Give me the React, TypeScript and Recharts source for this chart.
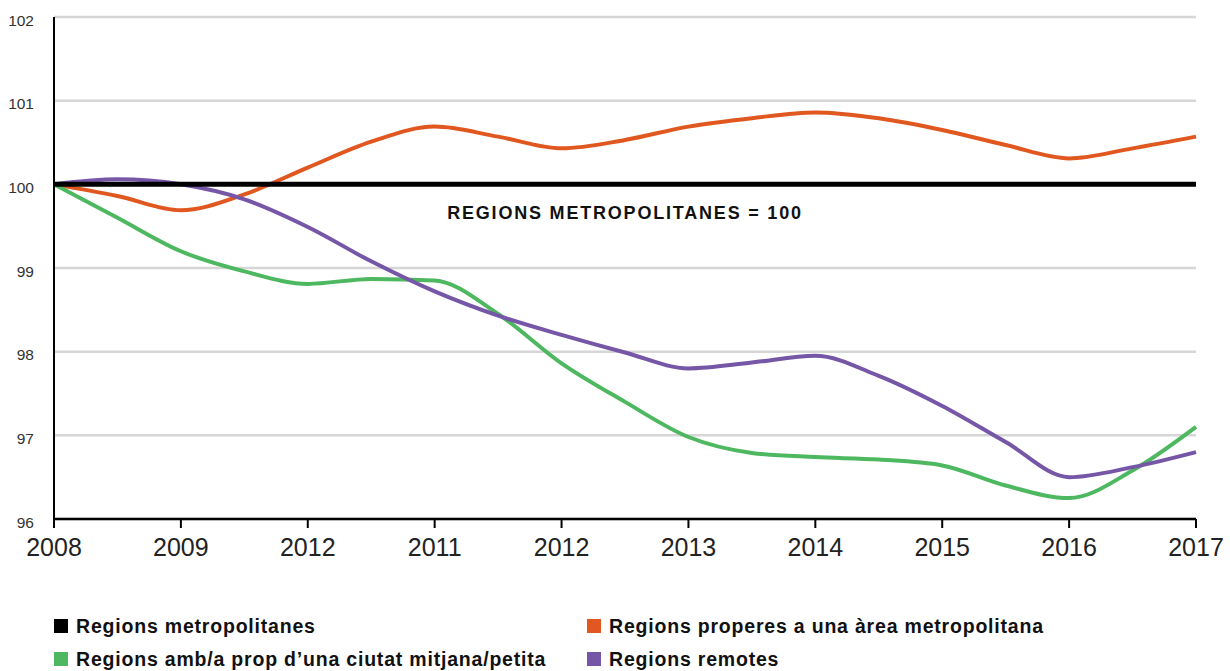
import { LineChart, Line, XAxis, YAxis, CartesianGrid, ReferenceLine } from "recharts";

// eix X: posicions de mig any (0 = primer any de la sèrie)
const periods = [0, 0.5, 1, 1.5, 2, 2.5, 3, 3.5, 4, 4.5, 5, 5.5, 6, 6.5, 7, 7.5, 8, 8.5, 9];
const yearLabels = ["2008", "2009", "2012", "2011", "2012", "2013", "2014", "2015", "2016", "2017"];
const yTicks = [96, 97, 98, 99, 100, 101, 102];

const metropolitanes = periods.map(() => 100);
const properes = [100, 99.86, 99.69, 99.88, 100.2, 100.51, 100.69, 100.57, 100.43, 100.53, 100.69, 100.79, 100.86, 100.79, 100.65, 100.47, 100.31, 100.43, 100.57];
const ciutatMitjana = [100, 99.6, 99.2, 98.96, 98.81, 98.87, 98.85, 98.45, 97.86, 97.4, 96.98, 96.79, 96.74, 96.71, 96.64, 96.4, 96.25, 96.58, 97.1];
const remotes = [100, 100.06, 100.0, 99.82, 99.49, 99.08, 98.72, 98.43, 98.2, 97.99, 97.8, 97.87, 97.95, 97.71, 97.35, 96.92, 96.5, 96.62, 96.8];

const colors = {
  metro: "#000000",
  properes: "#E0571F",
  ciutat: "#4DB860",
  remotes: "#7656A6",
};

const dades = periods.map((p, i) => ({
  x: p,
  metro: metropolitanes[i],
  properes: properes[i],
  ciutat: ciutatMitjana[i],
  remotes: remotes[i],
}));

const llegenda = [
  { nom: "Regions metropolitanes", color: colors.metro },
  { nom: "Regions properes a una àrea metropolitana", color: colors.properes },
  { nom: "Regions amb/a prop d’una ciutat mitjana/petita", color: colors.ciutat },
  { nom: "Regions remotes", color: colors.remotes },
];

const font = "'Liberation Sans', Arial, Helvetica, sans-serif";

export default function App() {
  return (
    <div
      style={{
        position: "absolute",
        left: 0,
        top: 0,
        width: 1230,
        height: 671,
        background: "#fff",
        fontFamily: font,
      }}
    >
      <LineChart width={1230} height={560} data={dades} margin={{ top: 17, right: 34, left: 0, bottom: 0 }}>
        <CartesianGrid vertical={false} stroke="#d6d6d6" strokeWidth={2.5} />
        <XAxis
          dataKey="x"
          type="number"
          domain={[0, 9]}
          ticks={[0, 1, 2, 3, 4, 5, 6, 7, 8, 9]}
          tickFormatter={(v: number) => yearLabels[v]}
          height={41}
          tickSize={9}
          tickMargin={10}
          tick={{ fontSize: 25, fill: "#222", fontFamily: font }}
          axisLine={{ stroke: "#000", strokeWidth: 2.5 }}
          tickLine={{ stroke: "#000", strokeWidth: 2 }}
        />
        <YAxis
          domain={[96, 102]}
          ticks={yTicks}
          width={54}
          tickSize={0}
          tickMargin={20}
          tickLine={false}
          tick={{ fontSize: 15.5, fill: "#333", fontFamily: font, dy: 3 }}
          axisLine={{ stroke: "#000", strokeWidth: 2 }}
        />
        <ReferenceLine
          y={100}
          stroke="none"
          label={{
            value: "REGIONS METROPOLITANES = 100",
            position: "bottom",
            offset: 22,
            fill: "#111",
            fontSize: 18,
            fontWeight: 700,
            fontFamily: font,
            letterSpacing: 1.8,
          }}
        />
        <Line type="monotone" dataKey="properes" stroke={colors.properes} strokeWidth={4} dot={false} isAnimationActive={false} />
        <Line type="monotone" dataKey="ciutat" stroke={colors.ciutat} strokeWidth={4} dot={false} isAnimationActive={false} />
        <Line type="monotone" dataKey="remotes" stroke={colors.remotes} strokeWidth={4} dot={false} isAnimationActive={false} />
        <Line type="linear" dataKey="metro" stroke={colors.metro} strokeWidth={5} dot={false} isAnimationActive={false} />
      </LineChart>
      <div
        style={{
          position: "absolute",
          left: 54,
          top: 614,
          width: 1100,
          display: "grid",
          gridTemplateColumns: "533px auto",
          rowGap: 9,
          fontSize: 19.5,
          fontWeight: 700,
          letterSpacing: 0.8,
          color: "#111",
        }}
      >
        {llegenda.map((item) => (
          <div key={item.nom} style={{ display: "flex", alignItems: "center", height: 24, whiteSpace: "nowrap" }}>
            <span style={{ width: 14, height: 14, background: item.color, marginRight: 8, display: "inline-block", flexShrink: 0 }} />
            <span>{item.nom}</span>
          </div>
        ))}
      </div>
    </div>
  );
}
